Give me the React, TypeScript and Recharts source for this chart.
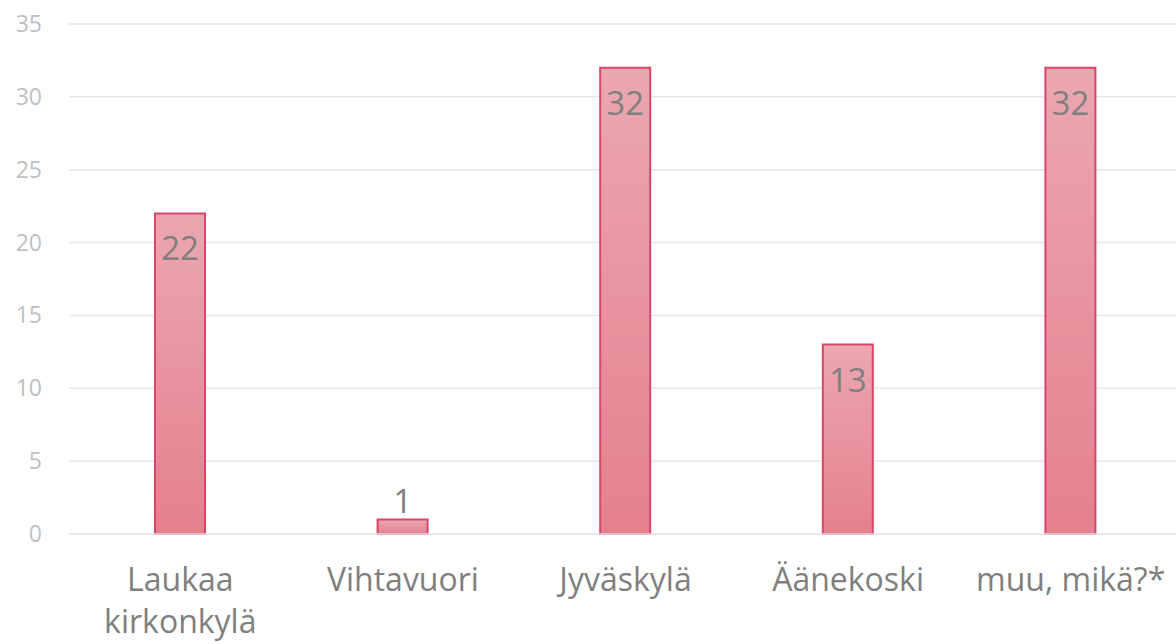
import React from 'react';
import { BarChart, Bar, XAxis, YAxis, CartesianGrid, LabelList } from 'recharts';

const categories = ['Laukaa\nkirkonkylä', 'Vihtavuori', 'Jyväskylä', 'Äänekoski', 'muu, mikä?*'];
const values = [22, 1, 32, 13, 32];
const yTicks = [0, 5, 10, 15, 20, 25, 30, 35];

const data = categories.map((c, i) => ({ name: c, value: values[i] }));

const FONT = '"Open Sans", "Noto Sans", sans-serif';

const XTick = (props: any) => {
  const { x, y, payload } = props;
  const lines = String(payload.value).split('\n');
  return (
    <text x={x} y={y} textAnchor="middle" fill="#7f7f7f" fontSize={32} fontFamily={FONT}>
      {lines.map((l, i) => (
        <tspan key={i} x={x} dy={i === 0 ? 49 : 42}>{l}</tspan>
      ))}
    </text>
  );
};

const YTick = (props: any) => {
  const { y, payload } = props;
  return (
    <text x={42} y={y} dy={8} textAnchor="end" fill="#bfbfbf" fontSize={23} fontFamily={FONT}>
      {payload.value}
    </text>
  );
};

const BarLabel = (props: any) => {
  const { x, y, width, height, value } = props;
  const cx = x + width / 2;
  const inside = height > 45;
  return (
    <text
      x={cx}
      y={inside ? y + 47 : y - 6}
      textAnchor="middle"
      fill="#7f7f7f"
      fontSize={33}
      fontFamily={FONT}
    >
      {value}
    </text>
  );
};

export default function App() {
  return (
    <div style={{ position: 'absolute', left: 0, top: 0, width: 1176, height: 644, background: '#fff', overflow: 'hidden' }}>
      <BarChart width={1182} height={644} data={data} margin={{ top: 24, right: 0, bottom: 0, left: 0 }} barSize={50}>
        <defs>
          <linearGradient id="barGrad" x1="0" y1="0" x2="0" y2="1">
            <stop offset="0%" stopColor="#eba7b1" />
            <stop offset="100%" stopColor="#e5808e" />
          </linearGradient>
        </defs>
        <CartesianGrid vertical={false} stroke="#e6e6e6" strokeWidth={1.5} />
        <XAxis
          dataKey="name"
          axisLine={{ stroke: '#e6e6e6', strokeWidth: 1.5 }}
          tickLine={false}
          tick={<XTick />}
          height={110}
          interval={0}
        />
        <YAxis
          domain={[0, 35]}
          ticks={yTicks}
          axisLine={false}
          tickLine={false}
          tick={<YTick />}
          width={69}
        />
        <Bar dataKey="value" fill="url(#barGrad)" stroke="#d9456b" strokeWidth={2} isAnimationActive={false}>
          <LabelList dataKey="value" content={<BarLabel />} />
        </Bar>
      </BarChart>
    </div>
  );
}
